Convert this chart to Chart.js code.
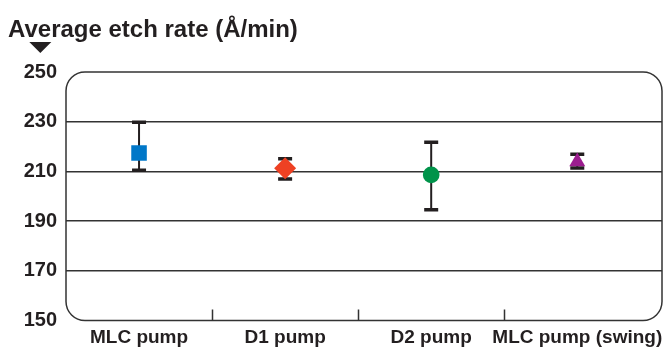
<!DOCTYPE html>
<html>
<head>
<meta charset="utf-8">
<script src="https://cdn.jsdelivr.net/npm/chart.js@4.4.1/dist/chart.umd.min.js"></script>
<style>
html, body { margin: 0; padding: 0; background: #fff; }
</style>
</head>
<body>
<canvas id="etchChart" width="666" height="348"></canvas>
<script>
// values
var categories = ['MLC pump', 'D1 pump', 'D2 pump', 'MLC pump (swing)'];
var meanRate  = [217.4, 211.3, 208.6, 213.9];
var upperRate = [229.8, 215.1, 221.7, 216.9];
var lowerRate = [210.5, 206.9, 194.6, 211.4];
var yTicks = [150, 170, 190, 210, 230, 250];
var markerColors = ['#0077c8', '#ee4123', '#00934a', '#9c1d8f'];
var markerShapes = ['rect', 'rectRot', 'circle', 'triangle'];

var ink = '#231f20';
var fontFamily = '"Liberation Sans", Arial, sans-serif';

var points = [];
$each = function(arr, fn){ for(var i=0;i<arr.length;i++){ fn(i, arr[i]); } };
$each(categories, function(i){
    points.push({x: i + 0.5, y: meanRate[i]});
});

// rounded frame, category separators and error bars
var framePlugin = {
    id: 'framePlugin',
    beforeDatasetsDraw: function(chart){
        var a = chart.chartArea, ctx = chart.ctx, r = 19;
        var xs = chart.scales.x, ys = chart.scales.y;
        ctx.save();
        ctx.strokeStyle = '#333';
        ctx.lineWidth = 1.5;
        ctx.beginPath();
        ctx.moveTo(a.left + r, a.top);
        ctx.arcTo(a.right, a.top, a.right, a.bottom, r);
        ctx.arcTo(a.right, a.bottom, a.left, a.bottom, r);
        ctx.arcTo(a.left, a.bottom, a.left, a.top, r);
        ctx.arcTo(a.left, a.top, a.right, a.top, r);
        ctx.closePath();
        ctx.stroke();

        ctx.beginPath();
        for(var i = 1; i < categories.length; i++){
            var px = Math.round(xs.getPixelForValue(i)) + 0.5;
            ctx.moveTo(px, a.bottom);
            ctx.lineTo(px, a.bottom - 11);
        }
        ctx.stroke();

        // error bars
        ctx.strokeStyle = ink;
        $each(categories, function(i){
            var cx = xs.getPixelForValue(i + 0.5);
            var yt = ys.getPixelForValue(upperRate[i]);
            var yb = ys.getPixelForValue(lowerRate[i]);
            ctx.lineWidth = 2;
            ctx.beginPath();
            ctx.moveTo(cx, yt);
            ctx.lineTo(cx, yb);
            ctx.stroke();
            ctx.lineWidth = 3.5;
            ctx.beginPath();
            ctx.moveTo(cx - 7, yt);
            ctx.lineTo(cx + 7, yt);
            ctx.moveTo(cx - 7, yb);
            ctx.lineTo(cx + 7, yb);
            ctx.stroke();
        });
        ctx.restore();
    },
    afterDraw: function(chart){
        // little arrow under the title, above the top tick label
        var ctx = chart.ctx, ys = chart.scales.y, a = chart.chartArea;
        ctx.save();
        ctx.font = 'bold 20px ' + fontFamily;
        var w = ctx.measureText(String(yTicks[yTicks.length - 1])).width;
        var cx = ys.right - 9 - w / 2;
        ctx.fillStyle = ink;
        ctx.beginPath();
        ctx.moveTo(cx - 11, a.top - 30);
        ctx.lineTo(cx + 11, a.top - 30);
        ctx.lineTo(cx, a.top - 19);
        ctx.closePath();
        ctx.fill();
        ctx.restore();
    }
};

var ctx = document.getElementById('etchChart').getContext('2d');
var chart = new Chart(ctx, {
    type: 'scatter',
    data: {
        datasets: [{
            data: points,
            pointStyle: markerShapes,
            pointRadius: [11, 11, 8.3, 9.2],
            pointHoverRadius: [11, 11, 8.3, 9.2],
            backgroundColor: markerColors,
            borderColor: markerColors,
            borderWidth: 0
        }]
    },
    plugins: [framePlugin],
    options: {
        responsive: false,
        animation: false,
        events: [],
        layout: { autoPadding: false, padding: { left: 8, right: 4, top: 0, bottom: 0 } },
        plugins: {
            legend: { display: false },
            tooltip: { enabled: false },
            title: {
                display: true,
                text: 'Average etch rate (Å/min)',
                align: 'start',
                color: ink,
                font: { family: fontFamily, size: 24, weight: 'bold' },
                padding: { top: 16, bottom: 27.2 }
            }
        },
        scales: {
            x: {
                type: 'linear',
                min: 0,
                max: 4.08,
                afterBuildTicks: function(scale){
                    scale.ticks = categories.map(function(c, i){ return {value: i + 0.5}; });
                },
                afterFit: function(scale){
                    scale.height = 27.5;
                    scale.paddingLeft = 0;
                    scale.paddingRight = 0;
                },
                ticks: {
                    autoSkip: false,
                    maxRotation: 0,
                    padding: -2,
                    color: ink,
                    font: { family: fontFamily, size: 19, weight: 'bold' },
                    callback: function(v, i){ return categories[i]; }
                },
                grid: { display: false },
                border: { display: false }
            },
            y: {
                min: 150,
                max: 250,
                afterBuildTicks: function(scale){
                    scale.ticks = yTicks.map(function(v){ return {value: v}; });
                },
                afterFit: function(scale){ scale.width = 58; },
                ticks: {
                    padding: 9,
                    color: ink,
                    font: { family: fontFamily, size: 20, weight: 'bold' }
                },
                grid: {
                    drawTicks: false,
                    lineWidth: 1.5,
                    color: function(c){
                        var v = c.tick && c.tick.value;
                        return (v === 150 || v === 250) ? 'rgba(0,0,0,0)' : '#333';
                    }
                },
                border: { display: false }
            }
        }
    }
});
</script>
</body>
</html>
